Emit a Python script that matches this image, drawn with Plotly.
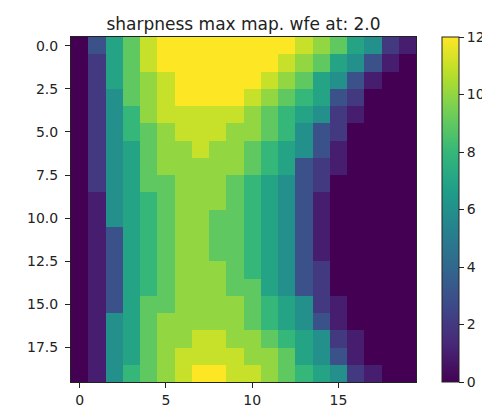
import plotly.graph_objects as go

# Sharpness maximum per grid cell (20 x 20), row 0 at the top
sharpness = [
    [0, 3, 7, 9, 11, 12, 12, 12, 12, 12, 12, 12, 12, 11, 10, 9, 7, 6, 2, 1],
    [0, 2, 7, 9, 11, 12, 12, 12, 12, 12, 12, 12, 11, 10, 9, 7, 6, 3, 1, 0],
    [0, 2, 7, 9, 10, 11, 12, 12, 12, 12, 12, 11, 10, 9, 7, 6, 3, 1, 0, 0],
    [0, 2, 6, 9, 10, 11, 12, 12, 12, 12, 11, 10, 9, 8, 7, 3, 2, 0, 0, 0],
    [0, 2, 6, 8, 10, 11, 11, 11, 11, 11, 10, 9, 8, 7, 6, 2, 1, 0, 0, 0],
    [0, 2, 6, 8, 9, 10, 11, 11, 11, 10, 10, 9, 8, 6, 3, 2, 0, 0, 0, 0],
    [0, 2, 6, 7, 9, 10, 10, 11, 10, 10, 9, 8, 7, 6, 3, 1, 0, 0, 0, 0],
    [0, 2, 6, 7, 9, 10, 10, 10, 10, 10, 9, 8, 7, 3, 2, 1, 0, 0, 0, 0],
    [0, 2, 6, 7, 9, 9, 10, 10, 10, 9, 8, 7, 6, 3, 2, 0, 0, 0, 0, 0],
    [0, 1, 6, 7, 8, 9, 10, 10, 10, 9, 8, 7, 6, 3, 1, 0, 0, 0, 0, 0],
    [0, 1, 6, 7, 8, 9, 10, 10, 9, 9, 8, 7, 6, 3, 1, 0, 0, 0, 0, 0],
    [0, 1, 3, 7, 8, 9, 10, 10, 9, 9, 8, 7, 6, 3, 1, 0, 0, 0, 0, 0],
    [0, 1, 3, 7, 8, 9, 10, 10, 9, 9, 8, 7, 6, 3, 1, 0, 0, 0, 0, 0],
    [0, 1, 3, 7, 8, 9, 10, 10, 10, 9, 8, 7, 6, 3, 2, 0, 0, 0, 0, 0],
    [0, 1, 3, 7, 8, 9, 10, 10, 10, 9, 9, 7, 6, 3, 2, 0, 0, 0, 0, 0],
    [0, 1, 3, 7, 9, 9, 10, 10, 10, 10, 9, 8, 7, 6, 2, 1, 0, 0, 0, 0],
    [0, 1, 6, 7, 9, 10, 10, 10, 10, 10, 9, 8, 7, 6, 3, 1, 0, 0, 0, 0],
    [0, 1, 6, 7, 9, 10, 10, 11, 11, 10, 10, 9, 8, 7, 6, 2, 1, 0, 0, 0],
    [0, 1, 6, 7, 9, 10, 11, 11, 11, 11, 10, 10, 9, 7, 6, 3, 1, 0, 0, 0],
    [0, 1, 6, 8, 9, 10, 11, 12, 12, 11, 11, 10, 9, 8, 7, 6, 2, 1, 0, 0],
]

x_ticks = [0, 5, 10, 15]
y_ticks = [0.0, 2.5, 5.0, 7.5, 10.0, 12.5, 15.0, 17.5]
y_tick_text = ["0.0", "2.5", "5.0", "7.5", "10.0", "12.5", "15.0", "17.5"]
cbar_ticks = [0, 2, 4, 6, 8, 10, 12]

FONT = "DejaVu Sans"

fig = go.Figure(
    go.Heatmap(
        z=sharpness,
        colorscale="Viridis",
        zmin=0,
        zmax=12,
        colorbar=dict(
            x=(442 - 71) / 345,
            xanchor="left",
            y=0.5,
            yanchor="middle",
            len=1,
            lenmode="fraction",
            thickness=17,
            xpad=0,
            ypad=0,
            outlinewidth=1,
            outlinecolor="#222",
            ticks="outside",
            ticklen=5,
            tickwidth=1,
            tickcolor="#222",
            tickvals=cbar_ticks,
            tickfont=dict(family=FONT, size=14, color="#222"),
        ),
    )
)

axis_common = dict(
    showgrid=False,
    zeroline=False,
    showline=True,
    linecolor="#222",
    linewidth=1,
    mirror=True,
    ticks="outside",
    ticklen=5,
    tickwidth=1,
    tickcolor="#222",
    tickfont=dict(family=FONT, size=14, color="#222"),
)

fig.update_xaxes(range=[-0.5, 19.5], tickvals=x_ticks, **axis_common)
fig.update_yaxes(
    range=[19.5, -0.5],
    tickvals=y_ticks,
    ticktext=y_tick_text,
    ticklabelstandoff=4,
    **axis_common,
)

fig.update_layout(
    width=482,
    height=407,
    margin=dict(l=71, r=66, t=37, b=25, autoexpand=False),
    paper_bgcolor="white",
    plot_bgcolor="white",
    title=dict(
        text="sharpness max map. wfe at: 2.0",
        x=0.5,
        xref="paper",
        xanchor="center",
        y=1,
        yref="paper",
        yanchor="bottom",
        pad=dict(b=7),
        font=dict(family=FONT, size=17, color="#222"),
    ),
)

fig.write_html("out.html")
